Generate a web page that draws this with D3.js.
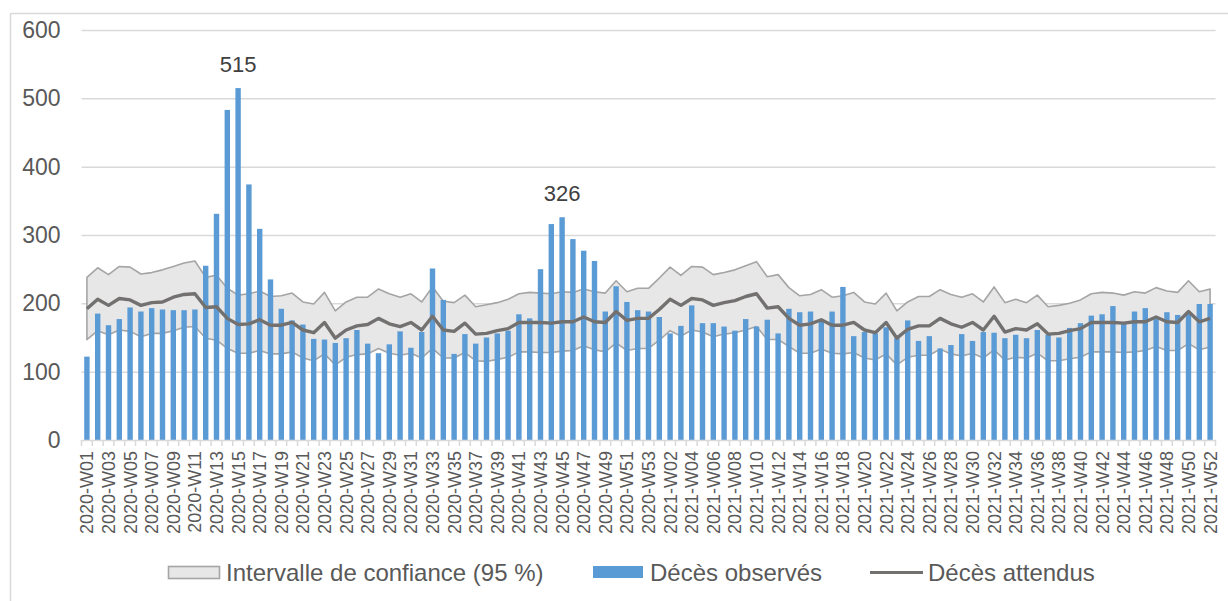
<!DOCTYPE html>
<html>
<head>
<meta charset="utf-8">
<script src="https://cdn.jsdelivr.net/npm/d3@7"></script>
<style>
  html, body { margin: 0; padding: 0; background: #fff; }
  svg { display: block; font-family: "Liberation Sans", Arial, sans-serif; }
</style>
</head>
<body>
<svg id="chart" width="1228" height="601"></svg>
<script>
// ---------- DATA ----------
const weeks2020 = d3.range(1, 54).map(w => "2020-W" + String(w).padStart(2, "0"));
const weeks2021 = d3.range(1, 53).map(w => "2021-W" + String(w).padStart(2, "0"));
const categories = weeks2020.concat(weeks2021);

const observed = [
  122,185,168,177,194,188,193,191,190,190,191,255,331,483,515,374,309,235,192,175,
  169,148,147,142,149,161,141,127,140,159,135,158,251,205,126,155,141,150,156,160,
  184,178,250,316,326,294,277,262,188,225,202,190,188,
  180,156,167,197,171,171,166,160,177,166,176,156,192,187,188,173,188,224,152,158,
  156,165,149,175,145,152,134,139,155,145,158,157,149,154,149,161,154,150,164,171,
  182,184,196,171,188,193,177,187,183,186,199,199
];

const upper = [
  238,252,242,254,253,243,245,249,254,259,262,238,241,222,212,214,218,210,211,215,
  202,199,216,189,202,209,209,221,214,209,214,202,224,203,201,212,195,198,201,206,
  214,216,215,214,217,216,221,217,215,233,217,222,222,
  237,253,241,254,253,242,245,249,255,261,239,242,223,211,213,220,209,211,216,202,
  199,215,189,202,210,210,220,213,209,214,202,224,201,206,201,212,195,197,200,205,
  214,216,215,212,217,215,223,218,216,233,217,221
];

const expected = [
  192,206,197,207,205,197,201,202,209,213,214,194,195,178,169,170,176,168,168,172,
  161,157,172,149,161,167,169,178,170,166,172,161,181,161,159,171,155,156,160,163,
  172,172,172,171,173,173,180,173,172,188,175,178,178,
  191,206,197,207,205,197,201,204,210,214,193,195,178,168,170,176,168,168,172,161,
  157,172,149,162,167,167,178,170,165,172,161,181,158,163,161,170,155,156,160,163,
  172,172,172,171,173,173,180,173,172,188,173,178
];

const lower = [
  147,160,154,161,159,151,156,156,160,165,166,149,146,134,127,127,131,126,126,129,
  120,116,126,110,121,125,126,134,127,124,127,120,134,120,120,128,116,115,118,121,
  129,129,128,128,130,131,138,132,129,142,131,134,134,
  146,160,152,161,158,151,155,157,161,166,147,147,137,127,127,133,127,126,128,120,
  117,126,110,121,124,124,133,126,123,127,120,132,117,121,120,127,116,116,119,121,
  129,129,129,128,129,131,137,131,131,141,132,136
];

const yTicks = [0, 100, 200, 300, 400, 500, 600];
const labelledWeeks = ["2020-W15", "2020-W45"];
const legendLabels = ["Intervalle de confiance (95 %)", "Décès observés", "Décès attendus"];

const rows = categories.map((c, i) => ({
  cat: c, obs: observed[i], up: upper[i], exp: expected[i], low: lower[i]
}));

// ---------- LAYOUT ----------
const svg = d3.select("#chart");
const plot = { left: 81.5, right: 1215.5, top: 30, bottom: 440 };
const textColor = "#595959";
const gridColor = "#d9d9d9";

const x = d3.scaleBand().domain(categories)
  .range([plot.left, plot.right]).paddingInner(0.5).paddingOuter(0.25);
const y = d3.scaleLinear().domain([0, 600]).range([plot.bottom, plot.top]);
const cx = c => x(c) + x.bandwidth() / 2;

// chart border (partially visible)
svg.append("line").attr("x1", 10.5).attr("x2", 1228).attr("y1", 13.5).attr("y2", 13.5)
  .attr("stroke", gridColor).attr("stroke-width", 1.5);
svg.append("line").attr("x1", 10.5).attr("x2", 10.5).attr("y1", 13.5).attr("y2", 601)
  .attr("stroke", gridColor).attr("stroke-width", 1.5);

// gridlines + y labels
const yAxis = d3.axisLeft(y).tickValues(yTicks).tickSize(-(plot.right - plot.left)).tickPadding(21);
const gy = svg.append("g").attr("transform", `translate(${plot.left},0)`).call(yAxis);
gy.select(".domain").remove();
gy.selectAll(".tick line").attr("stroke", gridColor).attr("stroke-width", 1.5)
  .filter(d => d === 0).remove();
gy.selectAll(".tick text").attr("fill", textColor).attr("font-size", 23)
  .attr("font-family", "Liberation Sans, Arial, sans-serif");

// confidence band
const area = d3.area().x(d => cx(d.cat)).y0(d => y(d.low)).y1(d => y(d.up));
svg.append("path").datum(rows).attr("d", d => area(d) + "Z")
  .attr("fill", "#e7e7e7").attr("stroke", "#a5a5a5").attr("stroke-width", 1.6)
  .attr("stroke-linejoin", "round");

// bars
svg.append("g").selectAll("rect").data(rows).join("rect")
  .attr("x", d => x(d.cat)).attr("width", x.bandwidth())
  .attr("y", d => y(d.obs)).attr("height", d => y(0) - y(d.obs))
  .attr("fill", "#5b9bd5");

// expected line
const line = d3.line().x(d => cx(d.cat)).y(d => y(d.exp));
svg.append("path").datum(rows).attr("d", line)
  .attr("fill", "none").attr("stroke", "#737070").attr("stroke-width", 3.4)
  .attr("stroke-linejoin", "round");

// data labels
svg.append("g").selectAll("text").data(rows.filter(d => labelledWeeks.includes(d.cat))).join("text")
  .attr("x", d => cx(d.cat)).attr("y", d => y(d.obs) - 16)
  .attr("text-anchor", "middle").attr("fill", "#404040").attr("font-size", 22)
  .text(d => d.obs);

// x axis
const xAxis = d3.axisBottom(x).tickValues(categories.filter((d, i) => i % 2 === 0))
  .tickSize(0).tickPadding(0);
const gx = svg.append("g").attr("transform", `translate(0,${plot.bottom})`).call(xAxis);
gx.select(".domain").attr("stroke", gridColor).attr("stroke-width", 1.5);
gx.selectAll(".tick text")
  .attr("fill", textColor).attr("font-size", 18)
  .attr("font-family", "Liberation Sans, Arial, sans-serif")
  .attr("text-anchor", "end")
  .attr("transform", "rotate(-90)")
  .attr("x", -11).attr("y", 0).attr("dy", "0.36em");
// tick marks between categories
const boundaries = categories.map(c => x(c) - x.step() * x.paddingInner() / 2)
  .concat([plot.right]);
svg.append("g").selectAll("line").data(boundaries).join("line")
  .attr("x1", d => d).attr("x2", d => d)
  .attr("y1", plot.bottom).attr("y2", plot.bottom + 6)
  .attr("stroke", gridColor).attr("stroke-width", 1.5);

// legend
const lg = svg.append("g").attr("font-size", 24).attr("fill", textColor);
const legY = 572.5;
lg.append("rect").attr("x", 168.5).attr("y", legY - 6).attr("width", 51).attr("height", 12)
  .attr("fill", "#e7e7e7").attr("stroke", "#a5a5a5").attr("stroke-width", 1.6);
lg.append("text").attr("x", 226).attr("y", legY).attr("dy", "0.35em").text(legendLabels[0]);
lg.append("rect").attr("x", 593).attr("y", legY - 6.5).attr("width", 50).attr("height", 12)
  .attr("fill", "#5b9bd5");
lg.append("text").attr("x", 650).attr("y", legY).attr("dy", "0.35em").text(legendLabels[1]);
lg.append("line").attr("x1", 870).attr("x2", 923).attr("y1", legY).attr("y2", legY)
  .attr("stroke", "#737070").attr("stroke-width", 3.2);
lg.append("text").attr("x", 928).attr("y", legY).attr("dy", "0.35em").text(legendLabels[2]);
</script>
</body>
</html>
